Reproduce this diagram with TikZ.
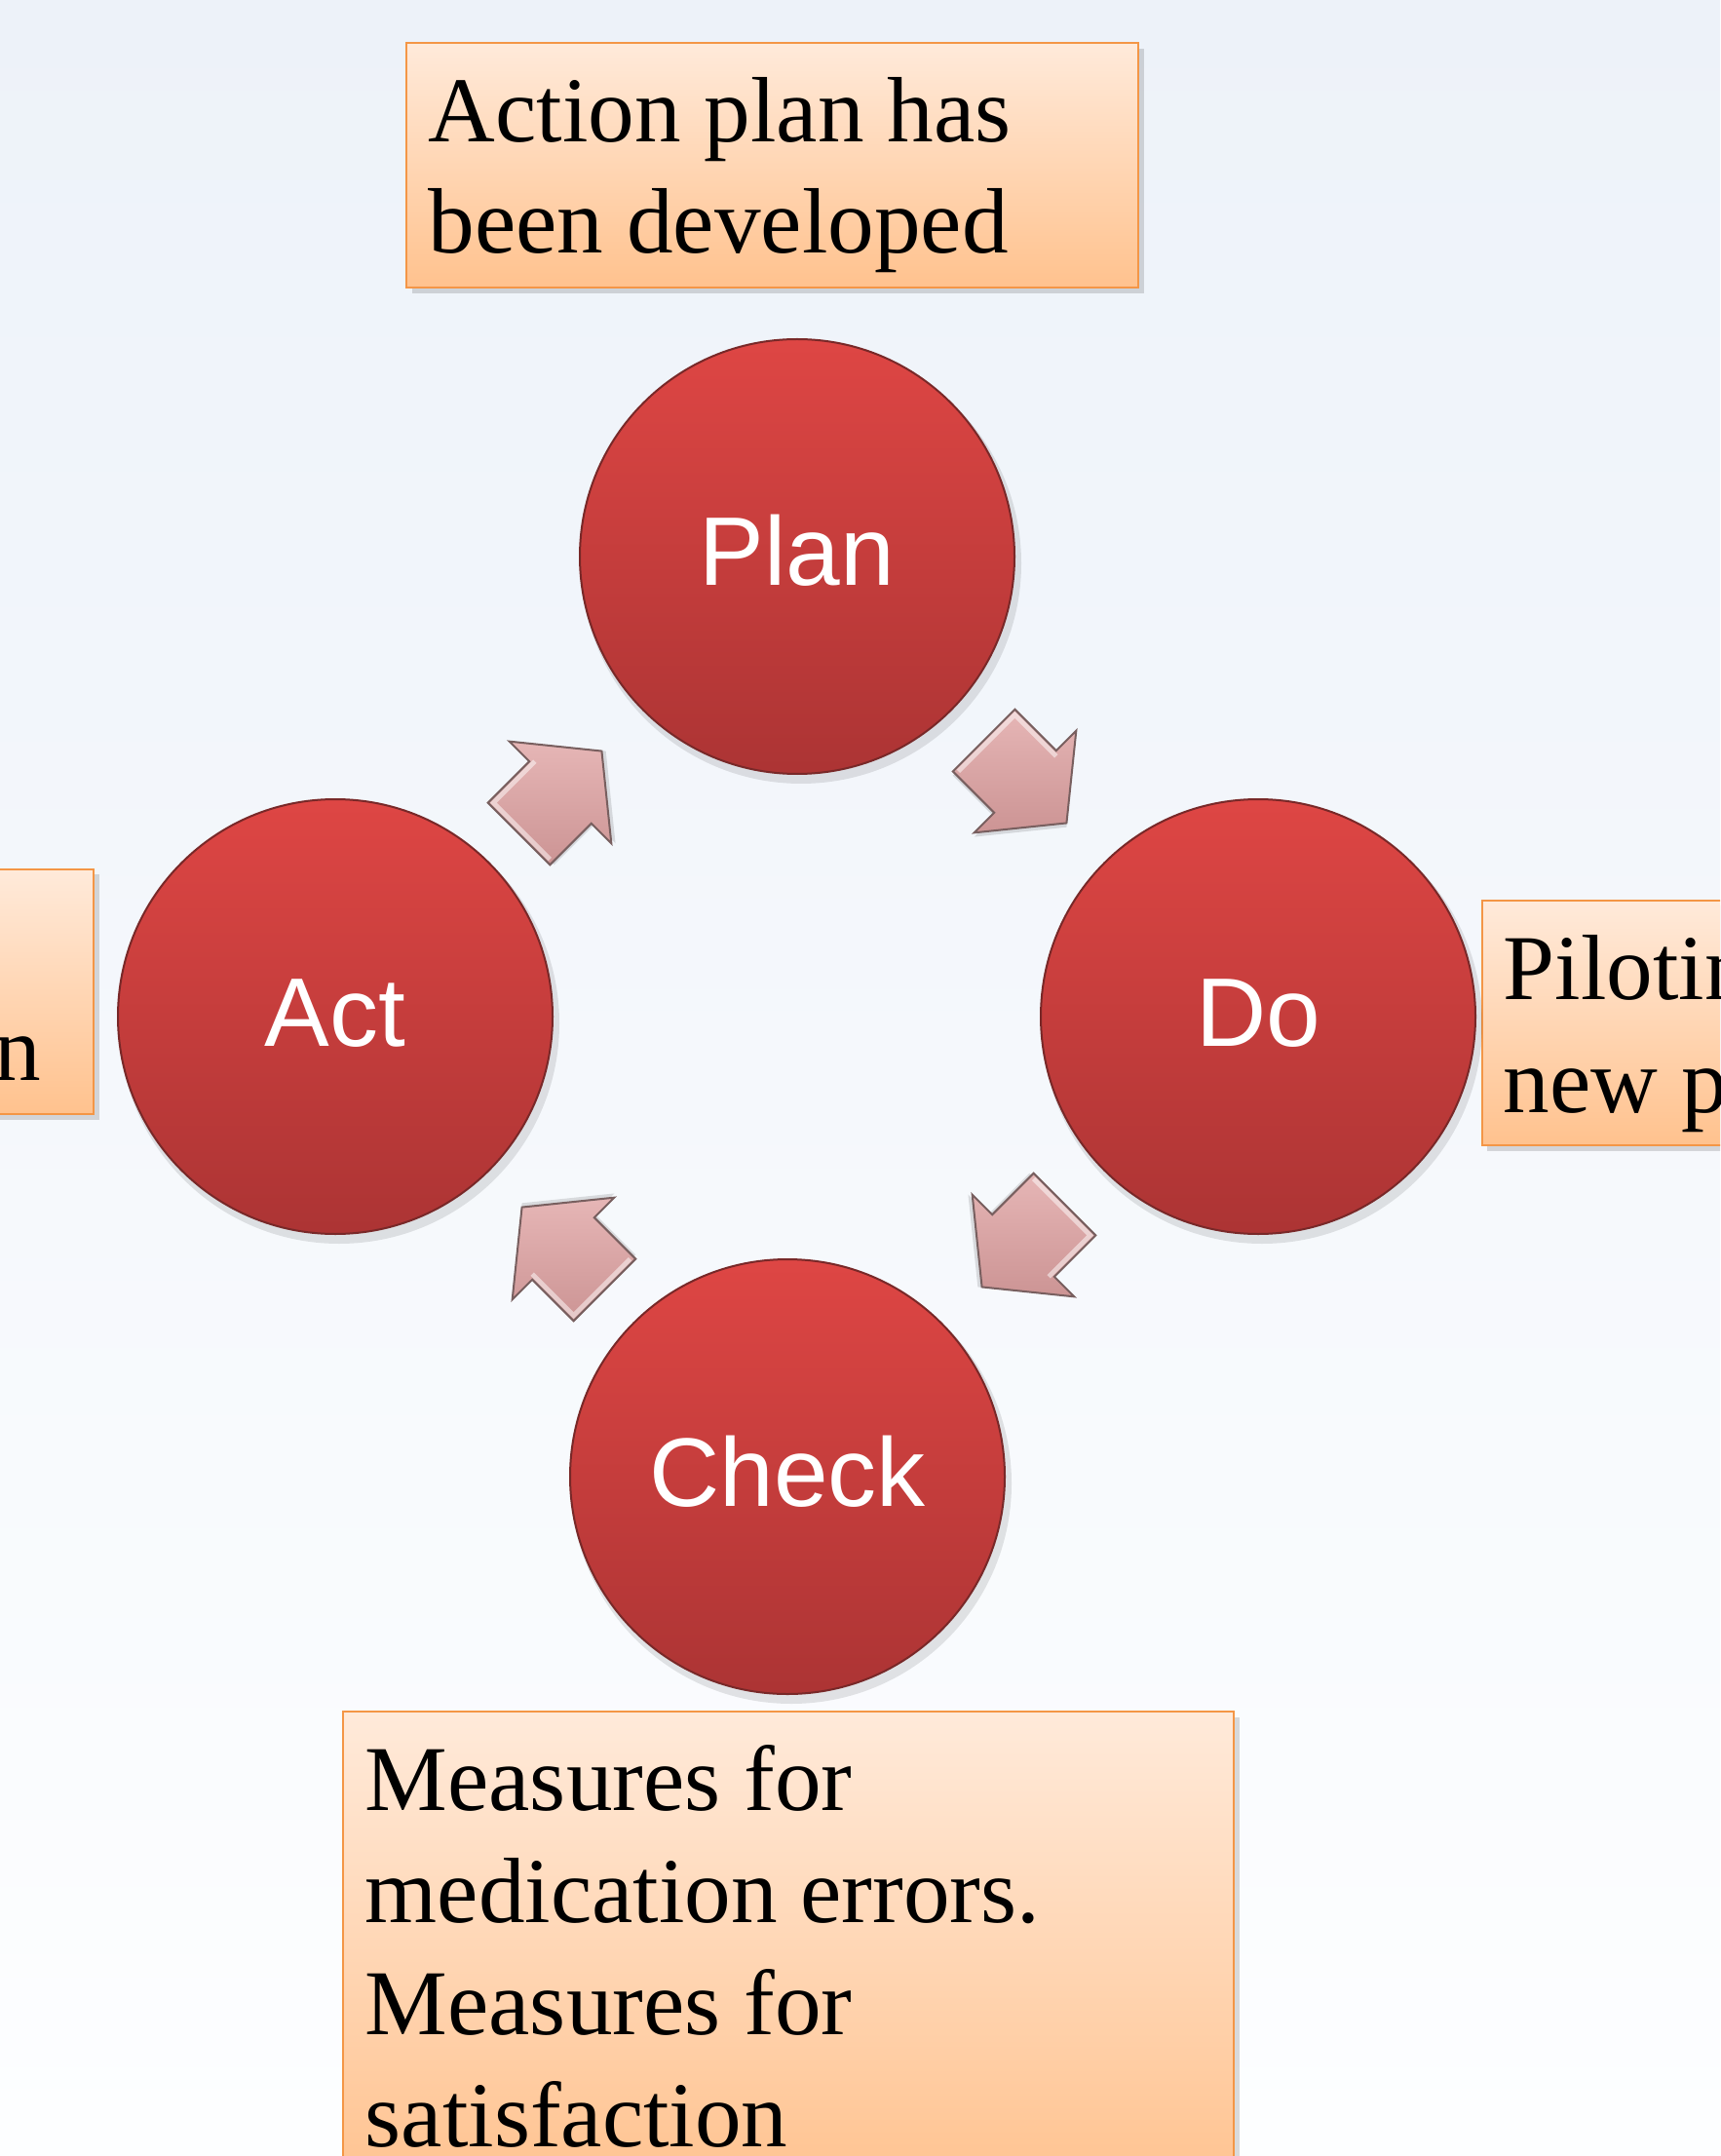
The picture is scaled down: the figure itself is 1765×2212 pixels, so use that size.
\documentclass[tikz,border=0pt]{standalone}
\usepackage{fontspec}
\setmainfont{Liberation Serif}
\newfontfamily\pdcasans{Liberation Sans}
\definecolor{bgtop}{RGB}{237,242,249}
\definecolor{bgbot}{RGB}{253,254,255}
\definecolor{boxtop}{RGB}{255,234,218}
\definecolor{boxbot}{RGB}{255,194,142}
\definecolor{boxedge}{RGB}{244,150,70}
\definecolor{redtop}{RGB}{222,70,68}
\definecolor{redbot}{RGB}{172,52,52}
\definecolor{rededge}{RGB}{120,40,40}
\definecolor{arrfill}{RGB}{216,162,162}
\definecolor{arrtop}{RGB}{230,182,182}
\definecolor{arrbot}{RGB}{204,148,148}
\definecolor{arredge}{RGB}{120,95,95}
\begin{document}
\begin{tikzpicture}[x=0.25pt,y=-0.25pt,
  boxstyle/.style={draw=boxedge, line width=0.7pt, top color=boxtop, bottom color=boxbot, inner sep=0pt, outer sep=0pt, anchor=north west},
  boxtext/.style={font=\fontsize{23.8}{28.6}\selectfont, text=black, inner sep=0pt, anchor=base west},
  stage/.style={circle, draw=rededge, line width=0.5pt, top color=redtop, bottom color=redbot, minimum size=111.5pt, inner sep=0pt},
  stagetext/.style={font=\pdcasans\fontsize{25}{30}\selectfont, text=white, inner sep=0pt, anchor=base},
  blockarrow/.pic={
    \fill[black, opacity=0.12] (-57,-42) -- (3,-42) -- (3,-71) -- (63,3) -- (3,77) -- (3,48) -- (-57,48) -- cycle;
    \path[draw=arredge, line width=0.5pt, top color=arrtop, bottom color=arrbot]
      (-60,-45) -- (0,-45) -- (0,-74) -- (60,0) -- (0,74) -- (0,45) -- (-60,45) -- cycle;
    \draw[white, opacity=0.5, line width=1.2pt] (-56,41) -- (-56,-41) -- (4,-41);
  }
]
\useasboundingbox (0,0) rectangle (1765,2212);
\clip (0,0) rectangle (1765,2212);
\shade[top color=bgtop, bottom color=bgbot] (0,0) rectangle (1765,2212);

% shadows of boxes
\fill[black, opacity=0.14] (423,50) rectangle (1174,301);
\fill[black, opacity=0.14] (-10,897) rectangle (102,1149);
\fill[black, opacity=0.14] (1526,929) rectangle (1800,1181);
\fill[black, opacity=0.14] (358,1762) rectangle (1272,2260);

% text boxes
\node[boxstyle, minimum width=187.75pt, minimum height=62.75pt] (planbox) at (417,44) {};
\node[boxstyle, minimum width=29pt, minimum height=62.75pt] (actbox) at (-20,892) {};
\node[boxstyle, minimum width=75pt, minimum height=62.75pt] (dobox) at (1521,924) {};
\node[boxstyle, minimum width=228.5pt, minimum height=125pt] (checkbox) at (352,1756) {};

\node[boxtext] (plant1) at (439,146) {Action plan has};
\node[boxtext] (plant2) at (439,260) {been developed};
\node[boxtext, anchor=base east] (actt2) at (43,1108) {n};
\node[boxtext] (dot1) at (1542,1025) {Piloting};
\node[boxtext] (dot2) at (1542,1141) {new p};
\node[boxtext] (checkt1) at (374,1857) {Measures for};
\node[boxtext] (checkt2) at (374,1972) {medication errors.};
\node[boxtext] (checkt3) at (374,2087) {Measures for};
\node[boxtext] (checkt4) at (374,2202) {satisfaction};

% circle shadows
\foreach \cx/\cy in {818/571, 1291/1043, 344/1043, 808/1515}{
  \fill[black, opacity=0.10] (\cx+4,\cy+7) circle (226);
}

% stages
\node[stage] (plan) at (818,571) {};
\node[stage] (do) at (1291,1043) {};
\node[stage] (act) at (344,1043) {};
\node[stage] (check) at (808,1515) {};

\node[stagetext] (plantext) at (818,601) {Plan};
\node[stagetext] (dotext) at (1291,1073) {Do};
\node[stagetext] (acttext) at (344,1073) {Act};
\node[stagetext] (checktext) at (808,1545) {Check};

% block arrows
\pic[rotate=45] (arrA) at (575,813) {blockarrow};
\pic[rotate=-45] (arrB) at (1052,802) {blockarrow};
\pic[rotate=-135] (arrC) at (1050,1278) {blockarrow};
\pic[rotate=135] (arrD) at (578,1281) {blockarrow};
\end{tikzpicture}
\end{document}
